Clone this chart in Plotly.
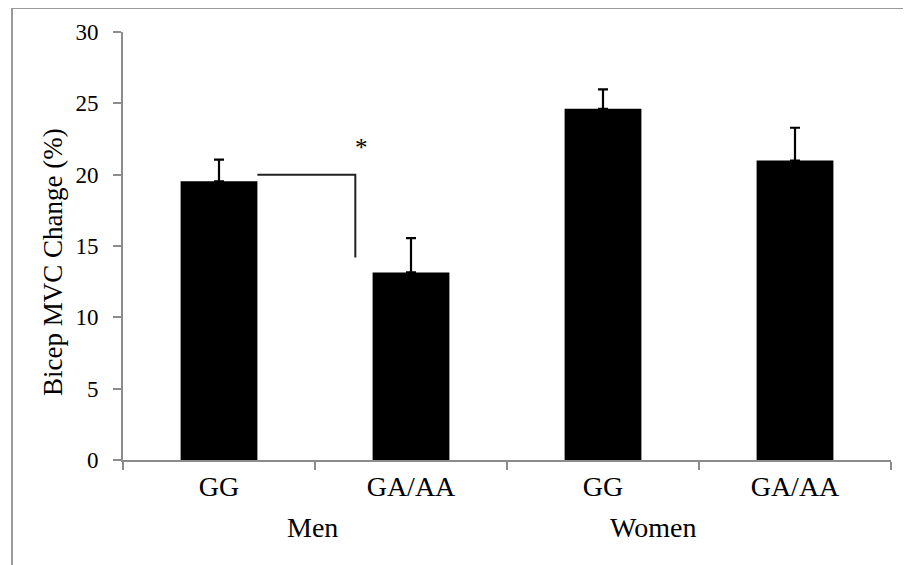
import plotly.graph_objects as go

# ---- data ----
categories = ["GG", "GA/AA", "GG ", "GA/AA "]   # unique keys for the category axis
tick_labels = ["GG", "GA/AA", "GG", "GA/AA"]
group_labels = ["Men", "Women"]
means = [19.53, 13.15, 24.62, 20.99]
sem_plus = [1.53, 2.40, 1.36, 2.30]
y_title = "Bicep MVC Change (%)"
y_ticks = [0, 5, 10, 15, 20, 25, 30]
bracket_top = 20.0
bracket_bottom = 14.2
bracket_x_end = 0.71     # category-axis position of the bracket's vertical leg
star_text = "*"

# ---- layout geometry (pixels); page body adds an 8px offset ----
OFF = 8
W, H = 911 - OFF, 565 - OFF
L, R, T, B = 123 - OFF, 20, 30 - OFF, 105
PW, PH = W - L - R, H - T - B

def px_x(sx):   # screen x -> paper
    return (sx - OFF - L) / PW

def px_y(sy):   # screen y -> paper
    return (H - B - (sy - OFF)) / PH

FONT = "Liberation Serif, Times New Roman, Times, serif"
AXIS_GREY = "#8c8c8c"

fig = go.Figure()
fig.add_trace(go.Bar(
    x=categories, y=means, width=0.4,
    marker=dict(color="black", line=dict(color="black", width=0)),
    error_y=dict(type="data", symmetric=False, array=sem_plus,
                 arrayminus=[0] * len(sem_plus),
                 color="black", thickness=2.2, width=5),
    showlegend=False,
))

# significance bracket
bar_right_edge = 0 + 0.2
fig.add_shape(type="path",
              path=f"M {bar_right_edge},{bracket_top} L {bracket_x_end},{bracket_top} L {bracket_x_end},{bracket_bottom}",
              xref="x", yref="y", line=dict(color="#222222", width=2))
fig.add_annotation(x=bracket_x_end + 0.03, y=bracket_top + 1.9, xref="x", yref="y",
                   text=star_text, showarrow=False, xanchor="center", yanchor="middle",
                   font=dict(family=FONT, size=25, color="black"))

# outer frame (top and left edges)
fig.add_shape(type="path",
              path=f"M {px_x(12)},{px_y(580)} L {px_x(12)},{px_y(6)} L {px_x(930)},{px_y(6)}",
              xref="paper", yref="paper", line=dict(color="#9a9a9a", width=2))

# group labels
fig.add_annotation(x=px_x(312), y=px_y(528), xref="paper", yref="paper",
                   text=group_labels[0], showarrow=False, xanchor="center", yanchor="middle",
                   font=dict(family=FONT, size=28, color="black"))
fig.add_annotation(x=px_x(653), y=px_y(528), xref="paper", yref="paper",
                   text=group_labels[1], showarrow=False, xanchor="center", yanchor="middle",
                   font=dict(family=FONT, size=28, color="black"))

# y-axis title
fig.add_annotation(x=px_x(53), y=px_y(261), xref="paper", yref="paper",
                   text=y_title, textangle=-90, showarrow=False,
                   xanchor="center", yanchor="middle",
                   font=dict(family=FONT, size=27, color="black"))

fig.update_layout(
    width=W, height=H,
    margin=dict(l=L, r=R, t=T, b=B, pad=0),
    paper_bgcolor="white", plot_bgcolor="white",
    bargap=0.6,
)
fig.update_xaxes(
    type="category", categoryorder="array", categoryarray=categories,
    tickvals=categories, ticktext=tick_labels,
    tickson="boundaries", ticks="outside", ticklen=8, tickwidth=2, tickcolor=AXIS_GREY,
    showline=True, linecolor=AXIS_GREY, linewidth=2,
    showgrid=False, zeroline=False,
    tickfont=dict(family=FONT, size=28, color="black"),
    range=[-0.5, 3.5],
)
fig.update_yaxes(
    range=[0, 30], tickvals=y_ticks,
    ticks="outside", ticklen=8, tickwidth=2, tickcolor=AXIS_GREY,
    ticklabelstandoff=10,
    showline=True, linecolor=AXIS_GREY, linewidth=2,
    showgrid=False, zeroline=False,
    tickfont=dict(family=FONT, size=23, color="black"),
)

fig.write_html("out.html")
